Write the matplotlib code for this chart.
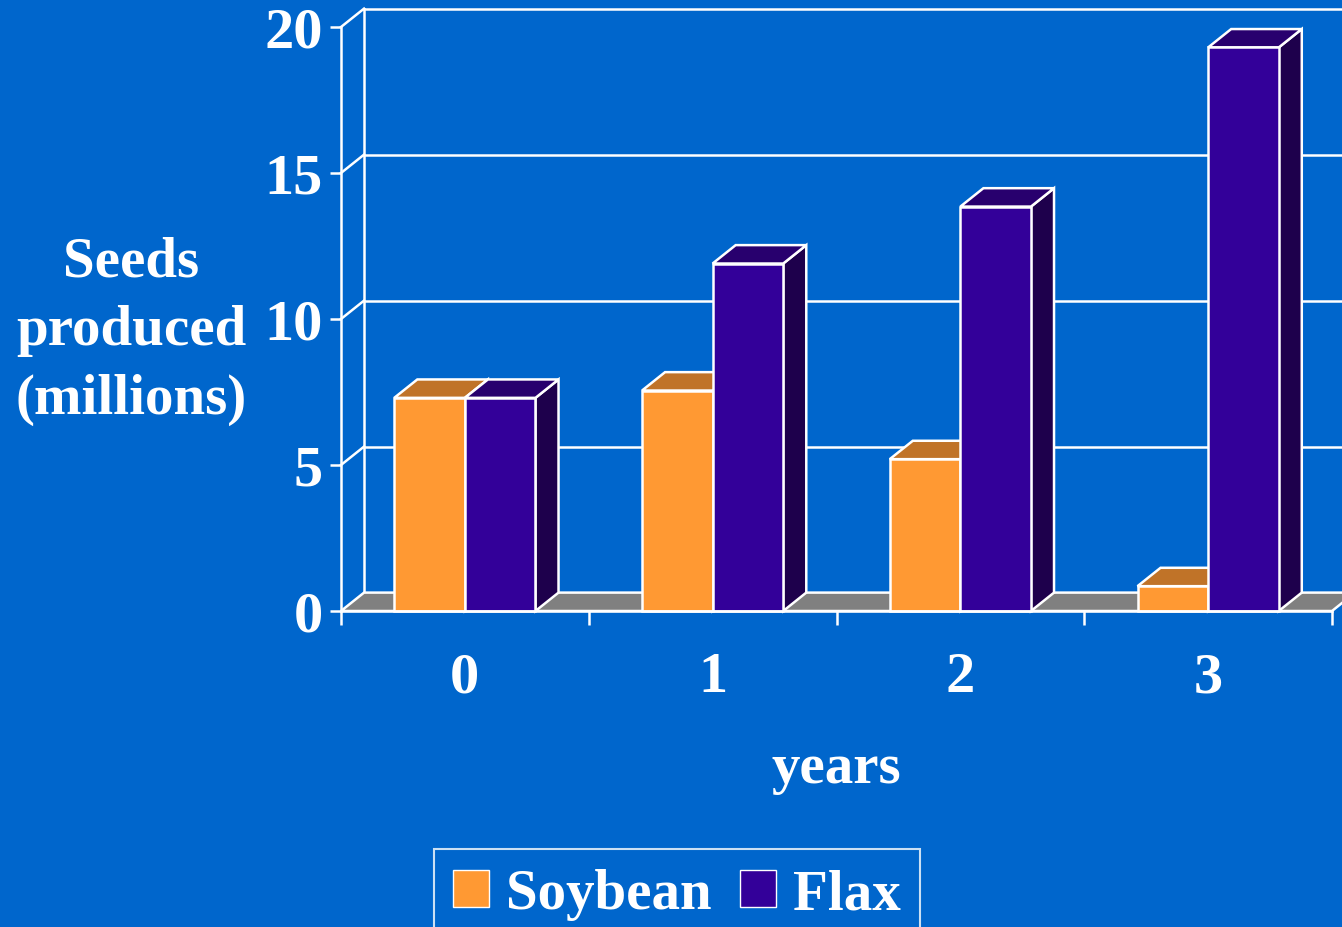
import matplotlib
matplotlib.use('Agg')
import matplotlib.pyplot as plt
from matplotlib.patches import Polygon, Patch

# data
years = ['0', '1', '2', '3']
soybean = [7.3, 7.55, 5.2, 0.85]
flax = [7.3, 11.9, 13.85, 19.3]

BG = '#0066CC'
soy_cols = ('#FF9933', '#C07328', '#A05A1E')   # front, top, side
flax_cols = ('#330099', '#28006E', '#1E004C')

plt.rcParams['font.family'] = ['Liberation Serif', 'DejaVu Serif']
plt.rcParams['font.weight'] = 'bold'
plt.rcParams['axes.labelweight'] = 'bold'
plt.rcParams['font.size'] = 41

fig = plt.figure(figsize=(13.42, 9.28), dpi=100, facecolor=BG)
ax = fig.add_axes([341 / 1342, 1 - 612 / 928, 991 / 1342, 584 / 928])
ax.set_facecolor('none')
ax.set_xlim(0, len(years))
ax.set_ylim(0, 20)

# depth of the fake 3d, in data units
dx, dy = 0.093, 0.63
lw = 1.8

def poly(pts, fc, z):
    ax.add_patch(Polygon(pts, closed=True, facecolor=fc, edgecolor='white',
                         linewidth=lw, clip_on=False, zorder=z, joinstyle='miter'))

# back wall and left wall lines
n = len(years)
for v in [5, 10, 15, 20]:
    ax.plot([dx, n + 0.3], [v + dy, v + dy], color='white', lw=lw, clip_on=False, zorder=1)
    ax.plot([0, dx], [v, v + dy], color='white', lw=lw, clip_on=False, zorder=1)
ax.plot([dx, dx], [dy, 20 + dy], color='white', lw=lw, clip_on=False, zorder=1)

# floor
poly([(0, 0), (n, 0), (n + dx, dy), (dx, dy)], '#808080', 2)

# bars
w = 0.285
z = 3
for i in range(n):
    c = i + 0.5
    for x0, h, cols in [(c - w, soybean[i], soy_cols), (c, flax[i], flax_cols)]:
        poly([(x0 + w, 0), (x0 + w + dx, dy), (x0 + w + dx, h + dy), (x0 + w, h)], cols[2], z)
        poly([(x0, h), (x0 + w, h), (x0 + w + dx, h + dy), (x0 + dx, h + dy)], cols[1], z)
        poly([(x0, 0), (x0 + w, 0), (x0 + w, h), (x0, h)], cols[0], z)
        z += 1

# axes, ticks
for s in ['top', 'right']:
    ax.spines[s].set_visible(False)
for s in ['left', 'bottom']:
    ax.spines[s].set_color('white')
    ax.spines[s].set_linewidth(lw)
    ax.spines[s].set_zorder(20)

ax.set_yticks([0, 5, 10, 15, 20])
ax.tick_params(axis='y', colors='white', length=8, width=lw, pad=5, labelsize=42)
ax.set_xticks(range(n + 1))
ax.set_xticklabels([])
ax.set_xticks([i + 0.5 for i in range(n)], minor=True)
ax.set_xticklabels(years, minor=True)
ax.tick_params(axis='x', which='major', colors='white', length=10, width=lw)
ax.tick_params(axis='x', which='minor', colors='white', length=0, pad=29, labelsize=42)

ax.set_xlabel('years', color='white', labelpad=28)
ax.set_ylabel('Seeds\nproduced\n(millions)', color='white', rotation=0,
              ha='center', va='center', linespacing=1.42)
ax.yaxis.set_label_coords(-0.212, 0.481)

handles = [Patch(facecolor=soy_cols[0], edgecolor='white', linewidth=1, label='Soybean'),
           Patch(facecolor=flax_cols[0], edgecolor='white', linewidth=1, label='Flax')]
leg = fig.legend(handles=handles, loc='upper center', ncol=2,
                 bbox_to_anchor=(677 / 1342, 1 - 850 / 928), fontsize=41,
                 frameon=True, fancybox=False, facecolor=BG, edgecolor='white',
                 handlelength=0.63, handleheight=0.63, handletextpad=0.3,
                 columnspacing=0.5, borderpad=0.34, borderaxespad=0)
leg.get_frame().set_linewidth(1.5)
for t in leg.get_texts():
    t.set_color('white')

fig.savefig('out.png', dpi=100, facecolor=BG)
